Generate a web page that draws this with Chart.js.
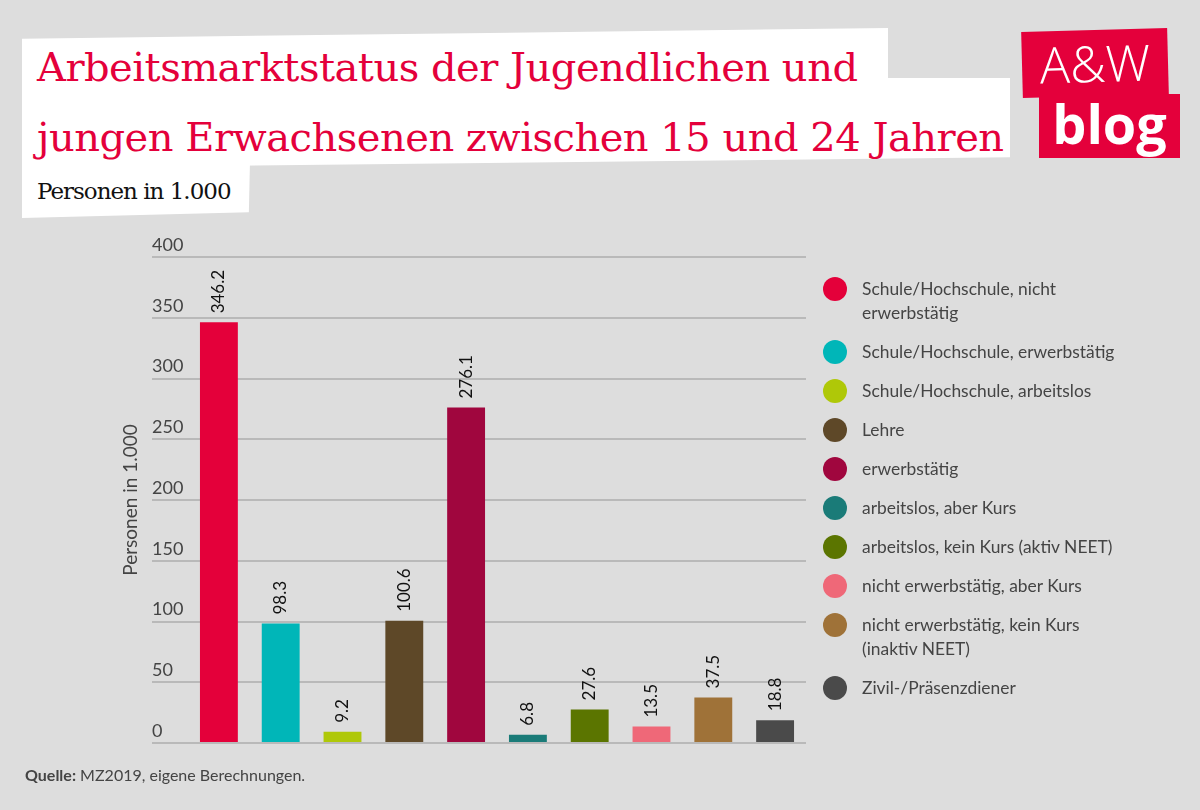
<!DOCTYPE html>
<html lang="de">
<head>
<meta charset="utf-8">
<script src="https://cdn.jsdelivr.net/npm/chart.js@4"></script>
<style>
  html, body { margin: 0; padding: 0; }
  body { width: 1200px; height: 810px; background: #dddddd; position: relative; overflow: hidden; font-family: Lato, 'Noto Sans', sans-serif; }
  #chart { position: absolute; left: 0; top: 0; width: 1200px; height: 810px; }
  .box { position: absolute; background: #fff; }
  .title { position: absolute; left: 37px; color: #e4003b; font-family: 'DejaVu Serif', serif; font-size: 40px; white-space: nowrap; letter-spacing: -0.5px; }
  .sub { position: absolute; left: 37px; top: 178px; font-family: 'DejaVu Serif', serif; font-size: 23px; color: #111; letter-spacing: -1px; }
  .logo { position: absolute; background: #e4003b; color: #fff; text-align: center; }
  #legend { position: absolute; left: 823px; top: 277px; margin: 0; padding: 0; list-style: none; }
  #legend li { position: relative; padding-left: 39px; margin-bottom: 15px; font-size: 17.4px; line-height: 24px; color: #444; white-space: pre; }
  #legend li span { position: absolute; left: 0; top: 0; width: 24px; height: 24px; border-radius: 50%; }
  .src { position: absolute; left: 25px; top: 765px; font-size: 16px; color: #444; }
</style>
</head>
<body>
<div class="box" style="left:22px;top:28px;width:866px;height:76px;clip-path:polygon(0 14%,100% 0,100% 100%,0 100%)"></div>
<div class="box" style="left:22px;top:78px;width:988px;height:90px;clip-path:polygon(0 0,100% 0,100% 88%,0 100%)"></div>
<div class="box" style="left:22px;top:160px;width:228px;height:58px;clip-path:polygon(0 0,100% 0,99.5% 90%,0 100%)"></div>
<div class="title" style="top:44px">Arbeitsmarktstatus der Jugendlichen und</div>
<div class="title" style="top:114px">jungen Erwachsenen zwischen 15 und 24 Jahren</div>
<div class="sub">Personen in 1.000</div>
<div class="logo" style="left:1022px;top:30px;width:146px;height:66px;transform:rotate(-1.5deg);font-family:'Open Sans',sans-serif;font-weight:300;font-size:50px;line-height:66px">A&amp;W</div>
<div class="logo" style="left:1039px;top:94px;width:141px;height:64px;font-family:'Open Sans',sans-serif;font-weight:700;font-size:54px;line-height:58px">blog</div>
<canvas id="chart" width="1200" height="810"></canvas>
<ul id="legend"></ul>
<div class="src"><b>Quelle:</b> MZ2019, eigene Berechnungen.</div>
<script>
const categories = [
  ['Schule/Hochschule, nicht', 'erwerbstätig'],
  'Schule/Hochschule, erwerbstätig',
  'Schule/Hochschule, arbeitslos',
  'Lehre',
  'erwerbstätig',
  'arbeitslos, aber Kurs',
  'arbeitslos, kein Kurs (aktiv NEET)',
  'nicht erwerbstätig, aber Kurs',
  ['nicht erwerbstätig, kein Kurs', '(inaktiv NEET)'],
  'Zivil-/Präsenzdiener'
];
const values = [346.2, 98.3, 9.2, 100.6, 276.1, 6.8, 27.6, 13.5, 37.5, 18.8];
const colors = ['#e4003a', '#00b6b8', '#afc808', '#5e4828', '#a0063e', '#1a7b78', '#5b7500', '#ef6878', '#9f7238', '#4a4a4a'];
const yTicks = [0, 50, 100, 150, 200, 250, 300, 350, 400];

const font = 'Lato, "Noto Sans", sans-serif';

const valueLabels = {
  id: 'valueLabels',
  afterDatasetsDraw(chart) {
    const ctx = chart.ctx;
    const meta = chart.getDatasetMeta(0);
    ctx.save();
    ctx.fillStyle = '#111';
    ctx.font = '17px ' + font;
    ctx.textAlign = 'left';
    ctx.textBaseline = 'middle';
    meta.data.forEach((bar, i) => {
      ctx.save();
      ctx.translate(bar.x, bar.y - 9);
      ctx.rotate(-Math.PI / 2);
      ctx.fillText(values[i].toFixed(1), 0, 0);
      ctx.restore();
    });
    ctx.restore();
  }
};

new Chart(document.getElementById('chart'), {
  type: 'bar',
  data: {
    labels: categories,
    datasets: [{
      data: values,
      backgroundColor: colors,
      borderWidth: 0,
      barPercentage: 0.613,
      categoryPercentage: 1
    }]
  },
  options: {
    responsive: false,
    animation: false,
    events: [],
    layout: { padding: { left: 118, top: 257, right: 394, bottom: 67 } },
    plugins: { legend: { display: false }, tooltip: { enabled: false } },
    scales: {
      x: { display: false },
      y: {
        min: 0, max: 400,
        afterBuildTicks: (s) => { s.ticks = yTicks.map(v => ({ value: v })); },
        afterFit: (s) => { s.width = 70; },
        border: { display: false },
        grid: { color: '#b9b9b9', lineWidth: 2, tickLength: 36, tickColor: '#b9b9b9' },
        ticks: {
          mirror: true, padding: -36, labelOffset: -12,
          color: '#444', font: { size: 18, family: font }
        },
        title: {
          display: true, text: 'Personen in 1.000', color: '#444',
          font: { size: 19, family: font },
          padding: { top: 1, bottom: 0 }
        }
      }
    }
  },
  plugins: [valueLabels]
});

const legend = document.getElementById('legend');
categories.forEach((c, i) => {
  const li = document.createElement('li');
  const dot = document.createElement('span');
  dot.style.background = colors[i];
  li.appendChild(dot);
  li.appendChild(document.createTextNode([].concat(c).join('\n')));
  legend.appendChild(li);
});
</script>
</body>
</html>
